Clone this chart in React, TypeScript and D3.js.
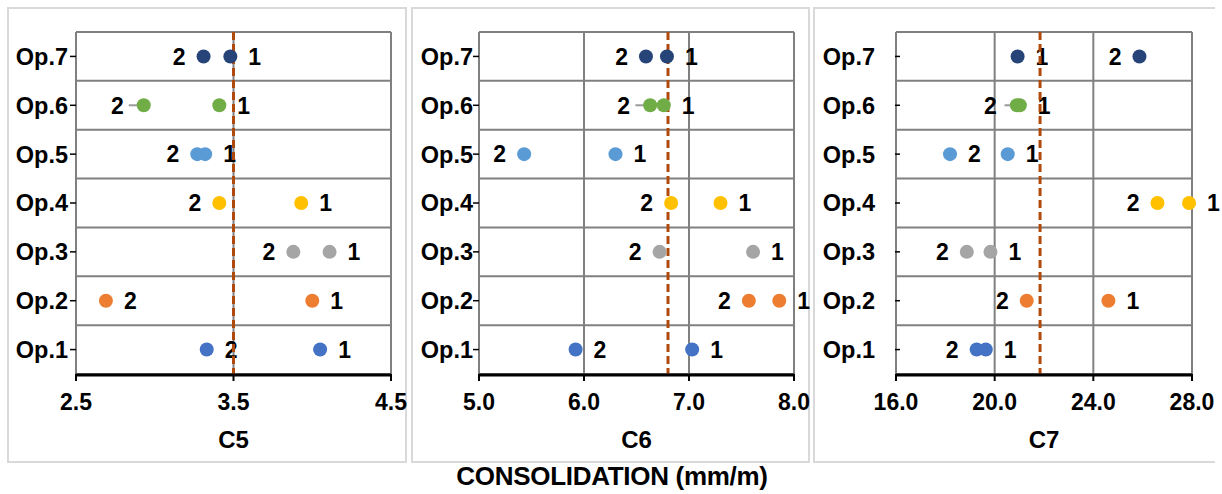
import React from "react";
import * as d3 from "d3";

const categories = ["Op.1", "Op.2", "Op.3", "Op.4", "Op.5", "Op.6", "Op.7"];
const categoryColors = ["#4472C4", "#ED7D31", "#A5A5A5", "#FFC000", "#5B9BD5", "#70AD47", "#264478"];

const c5Series1 = [4.05, 4.0, 4.11, 3.93, 3.32, 3.41, 3.48];
const c5Series2 = [3.33, 2.69, 3.88, 3.41, 3.27, 2.93, 3.31];
const c5ErrMinus2 = [0, 0, 0, 0, 0, 0.095, 0];
const c5Reference = 3.5;
const c5Domain = [2.5, 4.5];
const c5Ticks = [2.5, 3.5, 4.5];

const c6Series1 = [7.03, 7.86, 7.61, 7.3, 6.3, 6.76, 6.79];
const c6Series2 = [5.92, 7.57, 6.72, 6.83, 5.43, 6.63, 6.59];
const c6ErrMinus2 = [0, 0, 0, 0, 0, 0.14, 0];
const c6Reference = 6.8;
const c6Domain = [5.0, 8.0];
const c6Ticks = [5.0, 6.0, 7.0, 8.0];

const c7Series1 = [19.64, 24.61, 19.83, 27.88, 20.53, 21.02, 20.93];
const c7Series2 = [19.27, 21.3, 18.87, 26.6, 18.19, 20.9, 25.87];
const c7ErrMinus2 = [0, 0, 0, 0, 0, 0.5, 0];
const c7Reference = 21.84;
const c7Domain = [16.0, 28.0];
const c7Ticks = [16.0, 20.0, 24.0, 28.0];

// label side for series "2" (series "1" always right)
const c5Label2Side = ["right", "right", "left", "left", "left", "left", "left"];
const c6Label2Side = ["right", "left", "left", "left", "left", "left", "left"];
const c7Label2Side = ["left", "left", "left", "left", "right", "left", "left"];

const titleText = "CONSOLIDATION (mm/m)";

const FONT = "'Liberation Sans', Arial, sans-serif";

const panels = [
  {
    name: "C5", s1: c5Series1, s2: c5Series2, err: c5ErrMinus2, ref: c5Reference,
    domain: c5Domain, ticks: c5Ticks, sides: c5Label2Side,
    box: [8, 406], left: 76, right: 391, labelGap: 8, tickIn: false,
  },
  {
    name: "C6", s1: c6Series1, s2: c6Series2, err: c6ErrMinus2, ref: c6Reference,
    domain: c6Domain, ticks: c6Ticks, sides: c6Label2Side,
    box: [412, 809], left: 479, right: 794, labelGap: 6, tickIn: false,
  },
  {
    name: "C7", s1: c7Series1, s2: c7Series2, err: c7ErrMinus2, ref: c7Reference,
    domain: c7Domain, ticks: c7Ticks, sides: c7Label2Side,
    box: [814, 1215], left: 896, right: 1192, labelGap: 21, tickIn: true,
  },
];

const TOP = 32;
const BOTTOM = 374;
const BOX_TOP = 8;
const BOX_BOTTOM = 462;
const R = 7;
const LABEL_OFF = 18;

function Panel({ p }: { p: any }) {
  const x = d3.scaleLinear().domain(p.domain).range([p.left, p.right]);
  const y = d3.scaleBand().domain([...categories].reverse()).range([TOP, BOTTOM]).padding(0);
  const bw = y.bandwidth();
  const grid = "#808080";
  const boundaries = d3.range(categories.length + 1).map((i) => TOP + i * bw);
  return (
    <g>
      {p.ticks.map((t: number, i: number) => (
        <line key={"vg" + i} x1={x(t)} x2={x(t)} y1={TOP} y2={BOTTOM} stroke={grid} strokeWidth={2} />
      ))}
      {boundaries.map((b: number, i: number) => (
        <line key={"hg" + i} x1={p.left} x2={p.right} y1={b} y2={b} stroke={grid} strokeWidth={2} />
      ))}
      {categories.map((c, i) => {
        const cy = (y(c) as number) + bw / 2;
        return (
          <g key={"yl" + i}>
            <line
              x1={p.tickIn ? p.left - 1 : p.left - 6}
              x2={p.tickIn ? p.left + 4 : p.left}
              y1={cy} y2={cy} stroke="#000" strokeWidth={1.5}
            />
            <text x={p.left - p.labelGap} y={cy} dy="0.36em" textAnchor="end"
              fontFamily={FONT} fontWeight="bold" fontSize={23.5} fill="#000">{c}</text>
          </g>
        );
      })}
      {categories.map((c, i) => {
        const cy = (y(c) as number) + bw / 2;
        const x1 = x(p.s1[i]);
        const x2 = x(p.s2[i]);
        const side2 = p.sides[i];
        const x2l = side2 === "right" ? x2 + LABEL_OFF : x2 - LABEL_OFF - (p.err[i] > 0 ? 2 : 0);
        return (
          <g key={"dl" + i} fontFamily={FONT} fontWeight="bold" fontSize={23} fill="#000">
            <text x={x1 + LABEL_OFF} y={cy} dy="0.36em" textAnchor="start">1</text>
            <text x={x2l} y={cy} dy="0.36em" textAnchor={side2 === "right" ? "start" : "end"}>2</text>
          </g>
        );
      })}
      <line x1={x(p.ref)} x2={x(p.ref)} y1={TOP} y2={BOTTOM} stroke="#B04A0C" strokeWidth={3} strokeDasharray="8,4" />
      {categories.map((c, i) => {
        if (!p.err[i]) return null;
        const cy = (y(c) as number) + bw / 2;
        return (
          <line key={"eb" + i} x1={x(p.s2[i] - p.err[i])} x2={x(p.s2[i])} y1={cy} y2={cy} stroke="#999" strokeWidth={2} />
        );
      })}
      {categories.map((c, i) => {
        const cy = (y(c) as number) + bw / 2;
        return (
          <g key={"pt" + i} fill={categoryColors[i]}>
            <circle cx={x(p.s2[i])} cy={cy} r={R} />
            <circle cx={x(p.s1[i])} cy={cy} r={R} />
          </g>
        );
      })}
      <line x1={p.left} x2={p.right} y1={BOTTOM + 1} y2={BOTTOM + 1} stroke="#000" strokeWidth={3} />
      {p.ticks.map((t: number, i: number) => (
        <g key={"xt" + i}>
          <line x1={x(t)} x2={x(t)} y1={BOTTOM} y2={BOTTOM + 7} stroke="#000" strokeWidth={2} />
          <text x={x(t)} y={410} textAnchor="middle" fontFamily={FONT} fontWeight="bold" fontSize={23} fill="#000">
            {d3.format(".1f")(t)}
          </text>
        </g>
      ))}
      <text x={(p.left + p.right) / 2} y={448} textAnchor="middle" fontFamily={FONT} fontWeight="bold" fontSize={24} fill="#000">
        {p.name}
      </text>
    </g>
  );
}

export default function App() {
  const border = "#d9d9d9";
  return (
    <svg width={1222} height={494} style={{ position: "absolute", left: 0, top: 0, background: "#fff" }}>
      <rect x={0} y={0} width={1222} height={494} fill="#fff" />
      <rect x={panels[0].box[0]} y={BOX_TOP} width={panels[0].box[1] - panels[0].box[0]} height={BOX_BOTTOM - BOX_TOP} fill="none" stroke={border} strokeWidth={2} />
      <rect x={panels[1].box[0]} y={BOX_TOP} width={panels[1].box[1] - panels[1].box[0]} height={BOX_BOTTOM - BOX_TOP} fill="none" stroke={border} strokeWidth={2} />
      <path d={`M${panels[2].box[1]},${BOX_TOP}H${panels[2].box[0]}V${BOX_BOTTOM}H${panels[2].box[1]}`} fill="none" stroke={border} strokeWidth={2} />
      {panels.map((p) => (
        <Panel key={p.name} p={p} />
      ))}
      <text x={612} y={485} textAnchor="middle" fontFamily={FONT} fontWeight="bold" fontSize={26} letterSpacing={-0.3} fill="#000">
        {titleText}
      </text>
    </svg>
  );
}
